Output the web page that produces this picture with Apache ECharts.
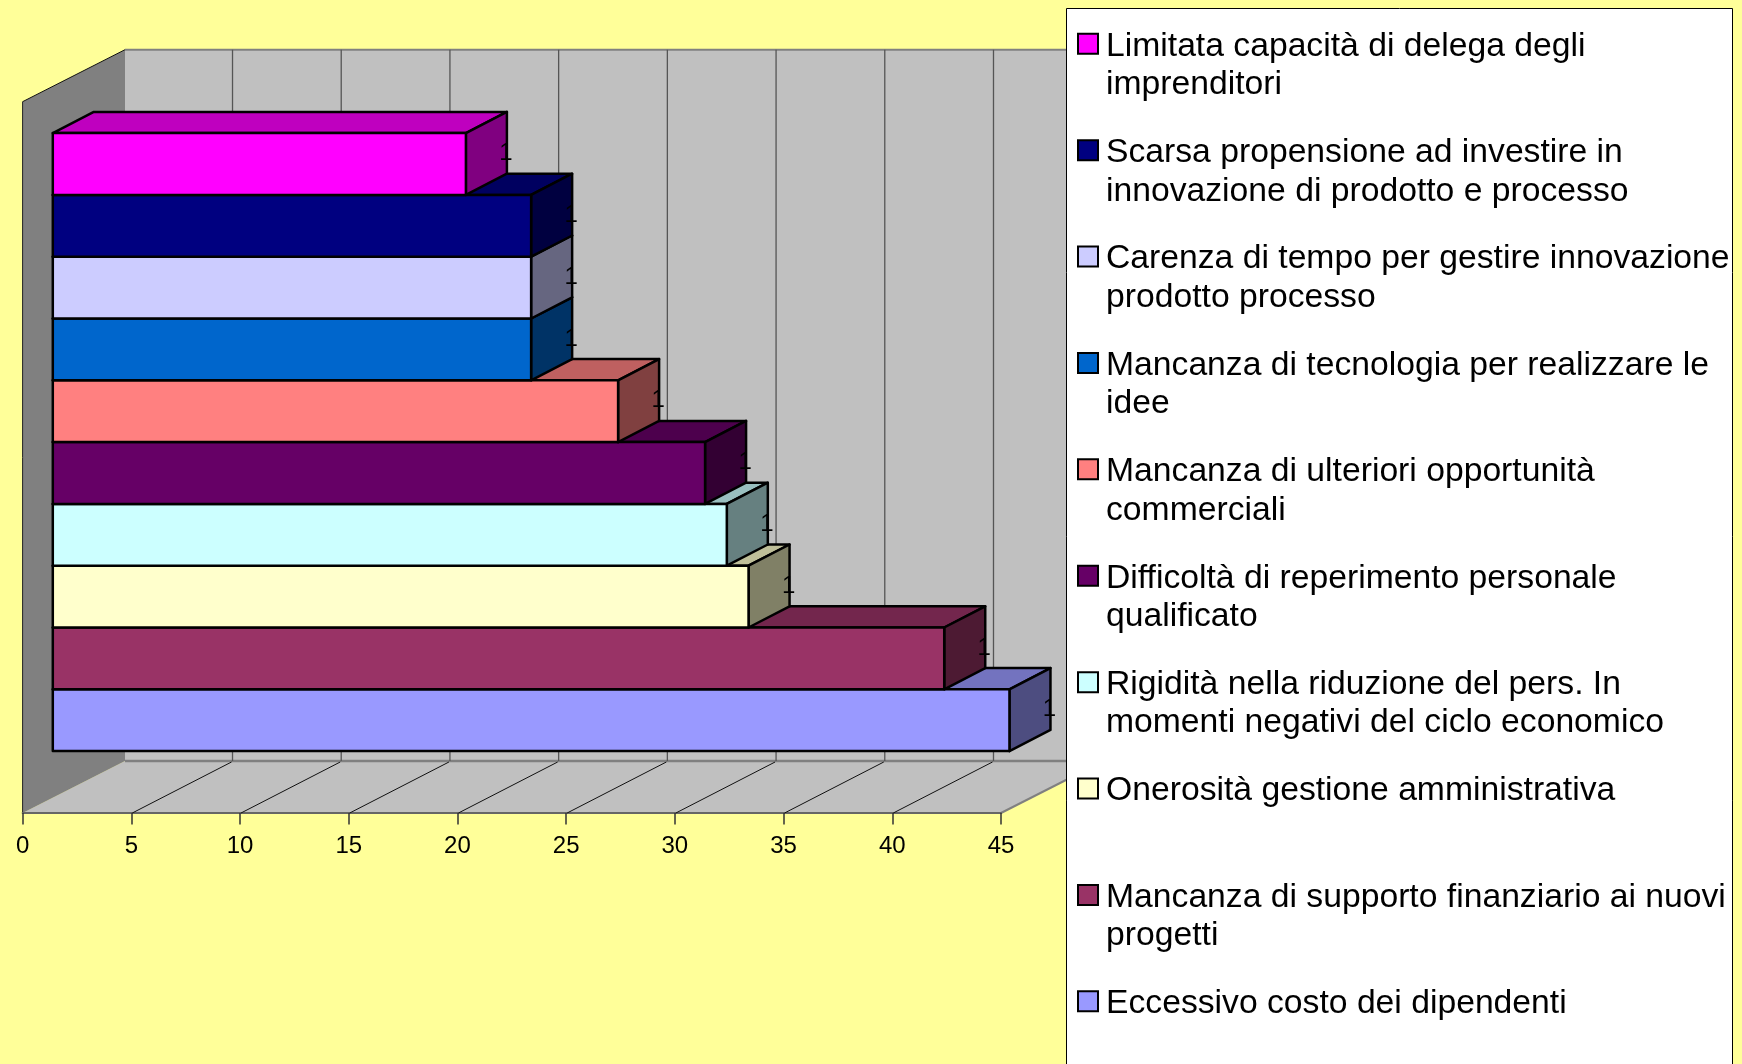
<!DOCTYPE html>
<html><head><meta charset="utf-8">
<style>html,body{margin:0;padding:0;background:#FFFF99}#c{width:1742px;height:1064px}</style>
<script src="https://cdn.jsdelivr.net/npm/echarts@6/dist/echarts.min.js"></script>
</head><body><div id="c"></div>
<script>
const categories = [
  "Limitata capacità di delega degli\nimprenditori",
  "Scarsa propensione ad investire in\ninnovazione di prodotto e processo",
  "Carenza di tempo per gestire innovazione\nprodotto processo",
  "Mancanza di tecnologia per realizzare le\nidee",
  "Mancanza di ulteriori opportunità\ncommerciali",
  "Difficoltà di reperimento personale\nqualificato",
  "Rigidità nella riduzione del pers. In\nmomenti negativi del ciclo economico",
  "Onerosità gestione amministrativa",
  "Mancanza di supporto finanziario ai nuovi\nprogetti",
  "Eccessivo costo dei dipendenti"
];
const values = [19, 22, 22, 22, 26, 30, 31, 32, 41, 44];
const colors = ["#FF00FF","#000080","#CCCCFF","#0066CC","#FF8080","#660066","#CCFFFF","#FFFFCC","#993366","#9999FF"];
const dataLabel = "1";
const xTicks = [0,5,10,15,20,25,30,35,40,45];

const FONT = '"Liberation Sans", Arial, sans-serif';
const WALL_DX = 102.4, WALL_DY = 52;     // depth of the 3D box
const GRID_NUDGE = -1.2;                 // back-wall gridlines sit slightly left
const BAR_DX = 41, BAR_DY = 21.2;        // depth of each bar

function shade(hex, k){
  const n = parseInt(hex.slice(1),16);
  const f = s => Math.round(((n>>s)&255)*k);
  return 'rgb('+f(16)+','+f(8)+','+f(0)+')';
}
function poly(points, fill, stroke, lw){
  return {type:'polygon', shape:{points}, style:{fill, stroke: stroke||null, lineWidth: lw||0, lineJoin:'round'}};
}
function line(a, b, stroke, lw){
  return {type:'line', shape:{x1:a[0],y1:a[1],x2:b[0],y2:b[1]}, style:{stroke, lineWidth:lw}};
}

// Walls and floor, from grid 0's scale
function renderWalls(params, api){
  const a = api.coord([0,1]), b = api.coord([0,0]), c = api.coord([45,0]);
  const d = p => [p[0]+WALL_DX, p[1]-WALL_DY];
  const c2 = d(c), a2 = d(a), b2 = d(b), e2 = [c2[0], a2[1]];
  return {type:'group', children:[
    poly([a2,e2,c2,b2], '#C0C0C0'),
    poly([b,c,c2,b2], '#C0C0C0'),
    poly([a,a2,b2,b], '#808080'),
    line(a2,e2,'#808080',2),
    line(b2,c2,'#808080',2.5),
    line(a,a2,'#111',1),
    line(a,b,'#222',1),
    line(c,c2,'#808080',2)
  ]};
}
// Gridlines on back wall and floor
function renderGrid(params, api){
  const v = api.value(0);
  if (v === 0 || v === 45) return {type:'group', children:[]};
  const top = api.coord([v,1]), bot = api.coord([v,0]);
  const bk = p => [p[0]+WALL_DX+GRID_NUDGE, p[1]-WALL_DY];
  return {type:'group', children:[
    line(bk(top), bk(bot), '#555', 1.3),
    line([bot[0]+1,bot[1]], [bk(bot)[0]-1, bk(bot)[1]+1], '#111', 1)
  ]};
}
// A 3D bar, from grid 1's scale
function renderBar(params, api){
  const v = api.value(0), i = api.value(1);
  const end = api.coord([v, i]), start = api.coord([0, i]);
  const h = api.size([0,1])[1];
  const x0 = start[0], x1 = end[0], yT = end[1]-h/2, yB = end[1]+h/2;
  const col = api.visual('color');
  const S = '#000', W = 2.5;
  return {type:'group', children:[
    poly([[x0,yT],[x0+BAR_DX,yT-BAR_DY],[x1+BAR_DX,yT-BAR_DY],[x1,yT]], shade(col,0.75), S, W),
    poly([[x1,yT],[x1+BAR_DX,yT-BAR_DY],[x1+BAR_DX,yB-BAR_DY],[x1,yB]], shade(col,0.5), S, W),
    poly([[x0,yT],[x1,yT],[x1,yB],[x0,yB]], col, S, W),
    {type:'text', style:{x:x1+BAR_DX-1, y:end[1]-10.5, text:dataLabel, fill:'#000', font:'24px '+FONT, align:'center', verticalAlign:'middle'}}
  ]};
}

const barSeries = categories.map((name,i)=>({
  name, type:'custom', xAxisIndex:1, yAxisIndex:1, z:2,
  itemStyle:{color:colors[i]}, renderItem:renderBar,
  encode:{x:0,y:1}, data:[[values[i], i]], silent:true
})).reverse();

const chart = echarts.init(document.getElementById('c'), null, {renderer:'canvas', width:1742, height:1064});
const legendText = {fontSize:33.7, fontFamily:FONT, color:'#000'};
chart.setOption({
  animation:false,
  backgroundColor:'#FFFF99',
  textStyle:{fontFamily:FONT},
  grid:[
    {left:22.6, top:101.7, width:978.4, height:711.3},
    {left:52.8, top:133.1, width:978.4, height:618}
  ],
  xAxis:[
    {type:'value', gridIndex:0, min:0, max:45, interval:5, splitLine:{show:false},
      axisLine:{show:true, lineStyle:{color:'#666', width:2}},
      axisTick:{show:true, length:11.5, lineStyle:{color:'#333', width:1.5}},
      axisLabel:{show:true, color:'#000', fontSize:24, fontFamily:FONT, margin:21.5, showMinLabel:true, showMaxLabel:true}},
    {type:'value', gridIndex:1, min:0, max:45, show:false}
  ],
  yAxis:[
    {type:'value', gridIndex:0, min:0, max:1, show:false},
    {type:'category', gridIndex:1, inverse:true, show:false, data:categories}
  ],
  legend:{
    show:true, orient:'vertical', left:1077, top:-11.65, padding:0,
    itemWidth:20, itemHeight:20, itemGap:-7.12, icon:'rect', selectedMode:false,
    data:categories,
    itemStyle:{borderColor:'#000', borderWidth:2},
    textStyle:{fontSize:33.7, fontFamily:FONT, color:'#000', padding:[0,0,0,3],
      rich:{
        s:Object.assign({lineHeight:43.5}, legendText),
        t:Object.assign({lineHeight:38.5}, legendText)
      }},
    formatter:function(name){
      const parts = name.split('\n');
      if (parts.length < 2) parts.push(' ');
      return '{s| }\n' + parts.map(p => '{t|' + p + '}').join('\n');
    }
  },
  graphic:[{type:'rect', z:3, shape:{x:1066.5,y:8.5,width:666,height:1070}, style:{fill:'#fff', stroke:'#000', lineWidth:1}}],
  series:[
    {type:'custom', name:'_walls', xAxisIndex:0, yAxisIndex:0, z:0, silent:true, renderItem:renderWalls, data:[[0]]},
    {type:'custom', name:'_grid', xAxisIndex:0, yAxisIndex:0, z:1, silent:true, renderItem:renderGrid, data:xTicks.map(t=>[t])}
  ].concat(barSeries)
});
</script></body></html>
